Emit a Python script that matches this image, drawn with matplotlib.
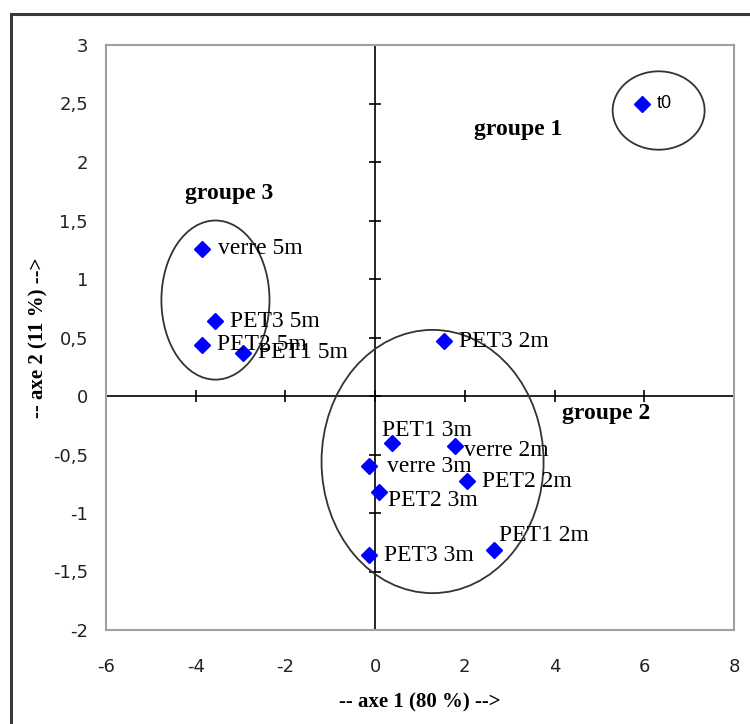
import matplotlib.pyplot as plt
from matplotlib.patches import Ellipse, Rectangle
from matplotlib.ticker import FuncFormatter

# scores on the first two axes
labels = ['t0', 'verre 5m', 'PET3 5m', 'PET2 5m', 'PET1 5m', 'PET3 2m', 'PET1 3m',
          'verre 2m', 'verre 3m', 'PET2 2m', 'PET2 3m', 'PET1 2m', 'PET3 3m']
axe1 = [5.96, -3.85, -3.58, -3.87, -2.95, 1.53, 0.37, 1.77, -0.14, 2.04, 0.08, 2.64, -0.14]
axe2 = [2.50, 1.26, 0.64, 0.44, 0.37, 0.47, -0.40, -0.43, -0.60, -0.73, -0.82, -1.32, -1.36]

# label offsets in points (Excel labels moved by hand)
offsets = [(10, 0), (11, 0), (11, 0), (11, 0), (11, 0), (11, 0), (-7, 9),
           (7, -3), (13, 0), (11, 0), (7, -6), (4, 11), (11, 0)]

# groups: name, label position, ellipse centre, width, height
groups = ['groupe 1', 'groupe 2', 'groupe 3']
group_text = [(3.18, 2.28), (5.16, -0.15), (-3.25, 1.73)]
ell_centre = [(6.32, 2.44), (1.28, -0.56), (-3.56, 0.82)]
ell_w = [2.05, 4.95, 2.41]
ell_h = [0.67, 2.25, 1.36]

xticks = [-6, -4, -2, 0, 2, 4, 6, 8]
yticks = [-2, -1.5, -1, -0.5, 0, 0.5, 1, 1.5, 2, 2.5, 3]

fig = plt.figure(figsize=(7.5, 7.24), dpi=100)
ax = fig.add_axes([106 / 750, 1 - 630 / 724, 628 / 750, 585 / 724])

# outer chart frame
fig.add_artist(Rectangle((11 / 750, -0.2), 1.2, 1.2 - 14 / 724, transform=fig.transFigure,
                         fill=False, ec='#3a3a3a', lw=2.2, clip_on=False))

ax.set_xlim(-6, 8)
ax.set_ylim(-2, 3)
for s in ax.spines.values():
    s.set_color('#a0a0a0')
    s.set_linewidth(1.5)

ax.set_xticks(xticks)
ax.set_yticks(yticks)
fmt = FuncFormatter(lambda v, p: f'{v:g}'.replace('.', ','))
ax.xaxis.set_major_formatter(fmt)
ax.yaxis.set_major_formatter(fmt)
ax.tick_params(axis='x', length=0, pad=20, labelsize=13, labelcolor='#222222')
ax.tick_params(axis='y', length=0, pad=13, labelsize=13, labelcolor='#222222')

# axes crossing at zero with cross ticks
ax.axhline(0, color='black', lw=1.2, zorder=1)
ax.axvline(0, color='black', lw=1.2, zorder=1)
ax.plot(xticks, [0] * len(xticks), ls='none', marker='|', ms=9, mew=1.2, color='black', zorder=1)
ax.plot([0] * len(yticks), yticks, ls='none', marker='_', ms=9, mew=1.2, color='black', zorder=1)

for (cx, cy), w, h in zip(ell_centre, ell_w, ell_h):
    ax.add_patch(Ellipse((cx, cy), w, h, fill=False, ec='#333333', lw=1.3, zorder=2))

ax.plot(axe1, axe2, ls='none', marker='D', ms=8, color='#0000ff', mec='#0000ff', zorder=3)

for lab, x, y, off in zip(labels, axe1, axe2, offsets):
    if lab == 't0':
        ax.annotate(lab, (x, y), xytext=off, textcoords='offset points', va='center',
                    fontsize=13, family='Liberation Sans', zorder=4)
    else:
        ax.annotate(lab, (x, y), xytext=off, textcoords='offset points', va='center',
                    fontsize=17, family='Liberation Serif', zorder=4)

for g, (tx, ty) in zip(groups, group_text):
    ax.text(tx, ty, g, ha='center', va='center', fontsize=17, fontweight='bold',
            family='Liberation Serif', zorder=4)

ax.set_xlabel('-- axe 1 (80 %) -->', family='Liberation Serif', fontweight='bold', fontsize=15, labelpad=12)
ax.set_ylabel('-- axe 2 (11 %) -->', family='Liberation Serif', fontweight='bold', fontsize=15, labelpad=3)

plt.savefig('out.png', dpi=100)
